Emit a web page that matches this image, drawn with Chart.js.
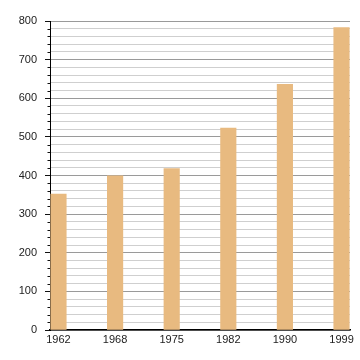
<!DOCTYPE html>
<html>
<head>
<meta charset="utf-8">
<script src="https://cdn.jsdelivr.net/npm/chart.js@4"></script>
<style>
html,body{margin:0;padding:0;background:#fff;}
#wrap{width:360px;height:360px;}
</style>
</head>
<body>
<div id="wrap"><canvas id="c" width="360" height="360"></canvas></div>
<script>
const years = ["1962", "1968", "1975", "1982", "1990", "1999"];
const population = [352, 399, 418, 523, 636, 783];
const yMax = 800;
const yMajorStep = 100;
const yMinorStep = 20;

const points = population.map((v, i) => ({x: i, y: v}));

const minorTicks = {
  id: 'minorTicks',
  afterDraw(chart) {
    const y = chart.scales.y;
    const ctx = chart.ctx;
    ctx.save();
    ctx.strokeStyle = '#111';
    ctx.lineWidth = 1;
    y.ticks.forEach(t => {
      if (t.value % yMajorStep !== 0) {
        const py = Math.round(y.getPixelForValue(t.value)) + 0.5;
        ctx.beginPath();
        ctx.moveTo(y.right - 2.5, py);
        ctx.lineTo(y.right, py);
        ctx.stroke();
      }
    });
    ctx.restore();
  }
};

new Chart(document.getElementById('c'), {
  type: 'bar',
  data: {
    datasets: [{
      data: points,
      backgroundColor: 'rgb(232,186,128)',
      borderWidth: 0,
      barThickness: 15.5
    }]
  },
  options: {
    responsive: false,
    animation: false,
    events: [],
    layout: {padding: {top: 21, right: 10, left: 0, bottom: 0}},
    plugins: {legend: {display: false}, tooltip: {enabled: false}},
    scales: {
      x: {
        type: 'linear',
        min: -0.15,
        max: 5.15,
        offset: false,
        grid: {display: false, drawTicks: false},
        border: {display: true, color: '#000', width: 1.5},
        ticks: {
          stepSize: 1,
          includeBounds: false,
          autoSkip: false,
          maxRotation: 0,
          padding: 3,
          color: '#222',
          font: {family: 'Liberation Sans', size: 11},
          callback: (v) => years[v] !== undefined && Number.isInteger(v) ? years[v] : ''
        },
        afterFit: (s) => { s.height = 30; }
      },
      y: {
        min: 0,
        max: yMax,
        grid: {
          color: (c) => c.tick && c.tick.value % yMajorStep === 0 ? '#9a9a9a' : '#cfcfcf',
          tickColor: (c) => c.tick && c.tick.value % yMajorStep === 0 ? '#111' : 'rgba(0,0,0,0)',
          tickLength: 5,
          lineWidth: 1
        },
        border: {display: true, color: '#000', width: 1},
        ticks: {
          stepSize: yMinorStep,
          autoSkip: false,
          padding: 8,
          color: '#222',
          font: {family: 'Liberation Sans', size: 11},
          callback: (v) => v % yMajorStep === 0 ? String(v) : ''
        },
        afterFit: (s) => { s.width = 50; }
      }
    }
  },
  plugins: [minorTicks]
});
</script>
</body>
</html>
